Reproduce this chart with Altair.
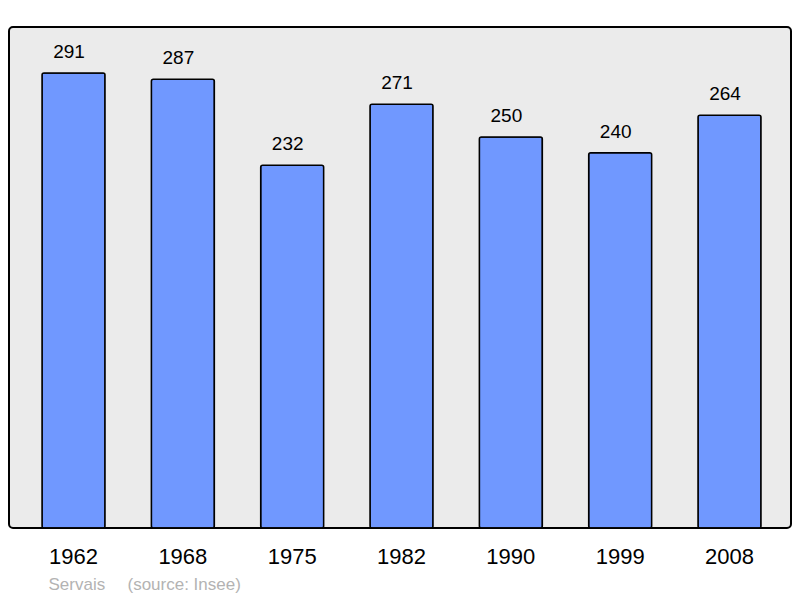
import altair as alt
import pandas as pd

years = ["1962", "1968", "1975", "1982", "1990", "1999", "2008"]
population = [291, 287, 232, 271, 250, 240, 264]
source_text = "Servais\u00a0\u00a0\u00a0\u00a0\u2009(source: Insee)"

df = pd.DataFrame({"year": years, "pop": population})

FONT = "Liberation Sans"

x = alt.X(
    "year:N",
    sort=years,
    scale=alt.Scale(paddingInner=0.4238, paddingOuter=0.2882, align=0.524),
    axis=alt.Axis(
        title=source_text,
        titleFont=FONT,
        titleFontSize=17,
        titleFontWeight="normal",
        titleColor="#b3b3b3",
        titleAnchor="start",
        titleAlign="left",
        titleBaseline="alphabetic",
        titleX=39,
        titleY=61,
        labelAngle=0,
        labelFont=FONT,
        labelFontSize=22,
        labelColor="#000000",
        labelBaseline="alphabetic",
        labelPadding=35,
        ticks=False,
        domain=False,
        grid=False,
    ),
)
y = alt.Y(
    "pop:Q",
    scale=alt.Scale(domain=[0, 320.4], nice=False),
    axis=None,
)

bars = alt.Chart(df).mark_bar(
    color="#7098ff", stroke="#000000", strokeWidth=1.5, cornerRadius=2
).encode(x=x, y=y)

labels = alt.Chart(df).mark_text(
    font=FONT, fontSize=19, color="#000000", baseline="alphabetic", dy=-15, dx=-4.5
).encode(x=alt.X("year:N", sort=years), y="pop:Q", text="pop:Q")

chart = (
    alt.layer(bars, labels)
    .properties(
        width=782,
        height=501,
        autosize=alt.AutoSizeParams(type="none"),
        padding={"left": 1, "top": 19, "right": 1, "bottom": 70},
        background="#ffffff",
    )
    .configure_view(
        fill="#ebebeb", stroke="#000000", strokeWidth=2, cornerRadius=4
    )
)

chart.save("out.html", embed_options={"renderer": "svg", "actions": False})
